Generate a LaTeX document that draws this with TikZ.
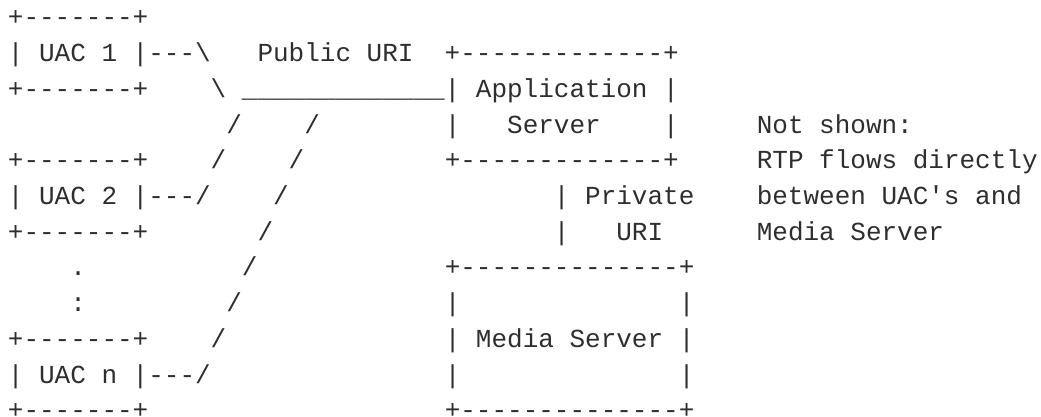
\documentclass[tikz,border=0pt]{standalone}
\usepackage{fontspec}
\setmonofont{Liberation Mono}
\definecolor{ink}{HTML}{2E2E2E}
\newcommand\sk[1]{\hspace*{#1\fontcharwd\font`\M}}
\tikzset{asc/.style={anchor=base west, inner sep=0pt, outer sep=0pt, text=ink,
  font=\ttfamily\fontsize{26}{30}\selectfont}}
\newcommand\asrow[3]{\node[asc] (#1) at (7.9,{26+(#2-1)*35.7}) {#3};}
\begin{document}
\begin{tikzpicture}[x=1pt,y=-1pt]
\useasboundingbox (0,0) rectangle (1041,417);
\asrow{r1}{1}{+-------+}
\asrow{r2}{2}{|~UAC~1~|---\textbackslash\sk{3}Public~URI\sk{2}+-------------+}
\asrow{r3}{3}{+-------+\sk{4}\textbackslash~\_\_\_\_\_\_\_\_\_\_\_\_\_|~Application~|}
\asrow{r4}{4}{\sk{14}/\sk{4}/\sk{8}|\sk{3}Server\sk{4}|\sk{5}Not~shown:}
\asrow{r5}{5}{+-------+\sk{4}/\sk{4}/\sk{9}+-------------+\sk{5}RTP~flows~directly}
\asrow{r6}{6}{|~UAC~2~|---/\sk{4}/\sk{17}|~Private\sk{4}between~UAC's~and}
\asrow{r7}{7}{+-------+\sk{7}/\sk{18}|\sk{3}URI\sk{6}Media~Server}
\asrow{r8}{8}{\sk{4}.\sk{10}/\sk{12}+--------------+}
\asrow{r9}{9}{\sk{4}:\sk{9}/\sk{13}|\sk{14}|}
\asrow{r10}{10}{+-------+\sk{4}/\sk{14}|~Media~Server~|}
\asrow{r11}{11}{|~UAC~n~|---/\sk{15}|\sk{14}|}
\asrow{r12}{12}{+-------+\sk{19}+--------------+}
\end{tikzpicture}
\end{document}
